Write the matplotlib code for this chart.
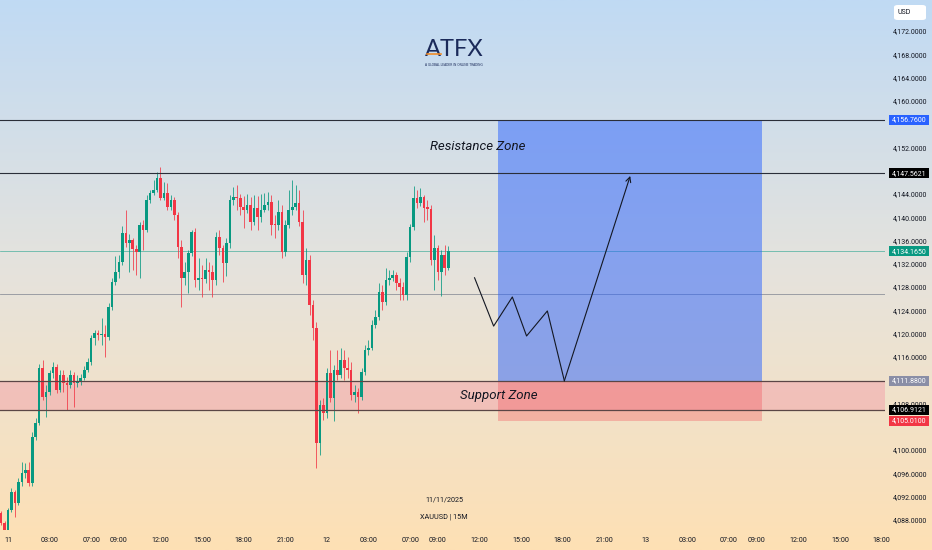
import matplotlib.pyplot as plt
from matplotlib.patches import Rectangle, FancyBboxPatch
from matplotlib.transforms import blended_transform_factory
import numpy as np

# XAUUSD 15M candles (first open, then close / high / low)
first_open = 4089.2
closes = [
    4087.5, 4086.3, 4089.7, 4092.8, 4090.9, 4094.5, 4096.1, 4096.6, 4094.3, 4102.3,
    4104.7, 4114.1, 4109.1, 4110.0, 4113.2, 4114.3, 4110.3, 4112.9, 4111.5, 4111.2,
    4112.9, 4111.5, 4111.9, 4112.4, 4113.8, 4115.1, 4119.3, 4120.1, 4119.8, 4119.9,
    4119.4, 4124.6, 4128.9, 4130.6, 4132.3, 4137.3, 4135.6, 4136.1, 4134.6, 4134.0,
    4138.7, 4137.8, 4143.0, 4144.2, 4144.7, 4146.8, 4143.3, 4144.2, 4141.8, 4143.0,
    4140.4, 4134.9, 4129.6, 4130.6, 4133.9, 4137.5, 4129.2, 4129.6, 4129.4, 4130.9,
    4130.6, 4129.2,
    4136.6, 4134.7, 4132.1, 4135.6, 4143.0, 4143.5, 4143.3, 4141.8, 4141.3, 4142.1,
    4139.2, 4141.6, 4140.1, 4141.3, 4142.1, 4142.6,
    4138.7, 4138.6, 4140.9, 4134.0, 4138.7, 4141.3, 4141.8,
    4142.5, 4139.2, 4130.1, 4132.7, 4124.9, 4121.0, 4101.2, 4107.8, 4106.4, 4113.2,
    4109.0, 4113.8, 4112.9, 4115.5, 4114.1,
    4113.8, 4109.5, 4110.0, 4109.1, 4113.4, 4117.2, 4117.5, 4121.5, 4122.9, 4127.2,
    4125.4, 4129.2, 4129.6,
    4130.1, 4128.7, 4128.0, 4126.6, 4133.2, 4138.3, 4143.3, 4142.5, 4143.5, 4141.6,
    4141.5, 4132.7, 4134.7, 4130.6, 4133.5, 4131.3, 4134.165,
]
highs = [
    4089.5, 4087.8, 4090.1, 4093.5, 4093.1, 4095.2, 4098.0, 4097.8, 4098.0, 4103.1,
    4105.5, 4114.8, 4115.5, 4111.2, 4113.8, 4115.1, 4114.8, 4113.8, 4113.8, 4112.6,
    4113.8, 4113.4, 4112.9, 4113.1, 4114.4, 4115.8, 4119.8, 4120.6, 4120.6, 4122.7,
    4121.5, 4125.3, 4129.6, 4133.4, 4133.5, 4138.5, 4141.3, 4137.1, 4136.4, 4135.2,
    4139.2, 4139.5, 4143.8, 4144.7, 4146.4, 4147.8, 4148.6, 4146.1, 4145.9, 4143.8,
    4143.5, 4140.9, 4136.1, 4132.3, 4134.4, 4137.8, 4138.2, 4133.0, 4131.8, 4133.0,
    4132.3, 4131.8,
    4137.5, 4137.8, 4135.2, 4136.4, 4143.8, 4145.2, 4145.5, 4144.0, 4143.7, 4144.0,
    4143.5, 4143.8, 4143.7, 4144.0, 4144.2, 4144.3,
    4143.8, 4140.4, 4143.0, 4142.1, 4139.5, 4144.7, 4146.4,
    4145.5, 4144.7, 4141.3, 4134.7, 4133.5, 4125.8, 4122.0, 4108.6, 4109.0, 4114.1,
    4117.2, 4114.6, 4117.2, 4117.5, 4117.2,
    4116.0, 4115.1, 4111.2, 4110.7, 4114.1, 4118.1, 4118.9, 4122.4, 4124.1, 4128.7,
    4128.4, 4131.3, 4130.9,
    4130.9, 4130.6, 4129.6, 4128.9, 4134.0, 4138.8, 4145.4, 4144.7, 4145.0, 4143.8,
    4143.0, 4142.1, 4137.0, 4135.2, 4134.4, 4135.2, 4135.1,
]
lows = [
    4087.1, 4085.8, 4085.9, 4089.4, 4088.5, 4090.6, 4093.8, 4095.2, 4093.8, 4093.8,
    4101.7, 4104.3, 4108.6, 4105.7, 4109.5, 4112.4, 4109.8, 4110.0, 4110.0, 4106.9,
    4110.7, 4107.4, 4110.8, 4111.2, 4112.0, 4113.4, 4114.6, 4118.1, 4118.9, 4118.1,
    4116.0, 4118.9, 4124.1, 4128.4, 4129.6, 4131.8, 4134.9, 4130.6, 4130.9, 4130.1,
    4129.6, 4134.4, 4137.5, 4142.5, 4143.8, 4144.3, 4143.0, 4143.0, 4141.3, 4141.3,
    4139.5, 4133.0, 4124.6, 4128.4, 4127.0, 4133.4, 4128.0, 4127.5, 4126.3, 4128.7,
    4127.5, 4126.3,
    4128.4, 4133.5, 4128.9, 4129.9, 4134.7, 4142.1, 4141.3, 4140.4, 4138.2, 4140.7,
    4137.8, 4138.7, 4137.8, 4139.2, 4140.9, 4141.3,
    4137.0, 4136.4, 4137.8, 4133.0, 4133.4, 4138.2, 4140.4,
    4141.3, 4138.5, 4128.7, 4128.4, 4123.2, 4118.9, 4096.9, 4099.2, 4105.2, 4105.5,
    4108.3, 4105.0, 4112.0, 4112.4, 4112.0,
    4112.4, 4108.6, 4108.3, 4106.4, 4108.6, 4112.9, 4116.3, 4117.2, 4121.0, 4122.4,
    4124.1, 4124.9, 4128.4,
    4129.1, 4127.5, 4125.8, 4125.8, 4125.8, 4132.3, 4137.8, 4141.6, 4141.9, 4139.2,
    4139.5, 4131.8, 4127.5, 4129.2, 4126.5, 4130.1, 4130.9,
]

# levels drawn on the chart
target_price = 4156.76
resistance_price = 4147.5621
last_price = 4134.165
mid_line_price = 4126.8
support_top = 4111.88
support_bottom = 4106.9121
stop_price = 4105.01

# long position box (bar index range) and projected path
box_start, box_end = 141.5, 217.6
path_x = [134.6, 140.1, 145.5, 149.6, 155.6, 160.5, 179.5]
path_y = [4129.6, 4121.3, 4126.3, 4119.6, 4123.9, 4111.9, 4147.1]

# axes labels
price_ticks = [4088, 4092, 4096, 4100, 4108, 4116, 4120, 4124, 4128, 4132,
               4136, 4140, 4144, 4152, 4160, 4164, 4168, 4172]
time_pos = [0, 12, 24, 32, 44, 56, 68, 80, 92, 104, 116, 124,
            136, 148, 160, 172, 184, 196, 208, 216, 228, 240, 252]
time_labels = ['11', '03:00', '07:00', '09:00', '12:00', '15:00', '18:00', '21:00',
               '12', '03:00', '07:00', '09:00', '12:00', '15:00', '18:00', '21:00',
               '13', '03:00', '07:00', '09:00', '12:00', '15:00', '18:00']

badges = [
    (target_price, '4,156.7600', '#2962ff'),
    (resistance_price, '4,147.5621', '#000000'),
    (last_price, '4,134.1650', '#089981'),
    (support_top, '4,111.8800', '#8a8ea6'),
    (support_bottom, '4,106.9121', '#000000'),
    (stop_price, '4,105.0100', '#f23645'),
]

font = ['Roboto', 'DejaVu Sans']
W, H = 932, 550

fig = plt.figure(figsize=(W / 100, H / 100), dpi=100)

# gradient background (blue top -> peach bottom)
bg = fig.add_axes([0, 0, 1, 1], zorder=0)
t = np.linspace(0, 1, 300)
stops = [0, 0.5, 1]
rgb = np.stack([np.interp(t, stops, [192, 230, 254]),
                np.interp(t, stops, [218, 227, 224]),
                np.interp(t, stops, [244, 220, 180])], axis=-1) / 255
bg.imshow(rgb[:, None, :], aspect='auto', extent=[0, 1, 0, 1])
bg.axis('off')

ax = fig.add_axes([0, 20 / H, 885 / W, 530 / H], zorder=1)
ax.patch.set_alpha(0)
for s in ax.spines.values():
    s.set_visible(False)

n = min(len(closes), len(highs), len(lows))
c = np.array(closes[:n])
o = np.array([first_open] + closes[:n - 1])
h = np.maximum(np.array(highs[:n]), np.maximum(o, c))
l = np.minimum(np.array(lows[:n]), np.minimum(o, c))
idx = np.arange(n) - 2
up = c >= o
cols = np.where(up, '#089981', '#f23645')

ax.vlines(idx, l, h, colors=cols, lw=0.7, alpha=0.8, zorder=3)
body = np.maximum(np.abs(c - o), 0.2)
ax.bar(idx, body, bottom=np.minimum(o, c), width=0.76, color=cols, zorder=3, linewidth=0)

# horizontal levels
ax.axhline(last_price, color='#089981', lw=0.5, alpha=0.7, zorder=2)
ax.axhline(mid_line_price, color='#8f939c', lw=0.6, zorder=2)
ax.axhspan(support_bottom, support_top, fc='#f2a0aa', alpha=0.5, lw=0, zorder=1.5)

# long position tool
ax.add_patch(Rectangle((box_start, support_top), box_end - box_start,
                       target_price - support_top, fc='#2962ff', alpha=0.5,
                       lw=0, zorder=4))
ax.add_patch(Rectangle((box_start, stop_price), box_end - box_start,
                       support_top - stop_price, fc='#f23645', alpha=0.28,
                       lw=0, zorder=4))

ax.axhline(target_price, color='#2a2e39', lw=0.8, zorder=5)
ax.axhline(resistance_price, color='#2a2e39', lw=0.8, zorder=5)
ax.axhline(support_top, color='#5a4646', lw=0.9, zorder=5)
ax.axhline(support_bottom, color='#5a4646', lw=0.9, zorder=5)

ax.plot(path_x[:-1], path_y[:-1], color='#131722', lw=0.8, zorder=6)
ax.annotate('', xy=(path_x[-1], path_y[-1]), xytext=(path_x[-2], path_y[-2]),
            arrowprops=dict(arrowstyle='->', color='#131722', lw=0.8,
                            mutation_scale=9, shrinkA=0, shrinkB=0), zorder=6)

ax.text(135.4, 4152.1, 'Resistance Zone', ha='center', va='center', fontsize=9.5,
        style='italic', family=font, color='#131722', zorder=7)
ax.text(141.5, 4109.3, 'Support Zone', ha='center', va='center', fontsize=9.5,
        style='italic', family=font, color='#131722', zorder=7)

ax.set_xlim(-2.3, 253.0)
ax.set_ylim(4177.33 - 530 / 5.82, 4177.33)

ax.yaxis.tick_right()
ax.set_yticks(price_ticks)
ax.set_yticklabels([f'{p:,.4f}' for p in price_ticks])
ax.set_xticks(time_pos)
ax.set_xticklabels(time_labels)
ax.tick_params(axis='y', length=0, pad=6.0, labelsize=5.0, labelcolor='#131722')
ax.tick_params(axis='x', length=0, pad=5, labelsize=5.2, labelcolor='#131722')
for lab in ax.get_xticklabels() + ax.get_yticklabels():
    lab.set_family(font)

# price badges on the right scale
tr = blended_transform_factory(ax.transAxes, ax.transData)
bh = 10 / 5.82
for price, text, color in badges:
    ax.add_patch(Rectangle((889 / 885, price - bh / 2), 40 / 885, bh, fc=color,
                           lw=0, transform=tr, clip_on=False, zorder=8))
    ax.text(909 / 885, price, text, transform=tr, ha='center', va='center',
            fontsize=5.0, family=font, color='white', clip_on=False, zorder=9)

# USD box
fig.patches.append(FancyBboxPatch((894 / W, 1 - 20 / H), 32 / W, 15 / H,
                                  boxstyle='round,pad=0,rounding_size=0.004',
                                  fc='white', ec='none', transform=fig.transFigure,
                                  zorder=3))
fig.text(898 / W, 1 - 12.5 / H, 'USD', fontsize=5.0, family=font, color='#131722',
         va='center', ha='left', zorder=4)

# logo
fig.text(454 / W, 1 - 49 / H, 'ATFX', fontsize=17, family=['Lato', 'DejaVu Sans'],
         color='#1b2a5a', ha='center', va='center', zorder=4)
fig.lines.append(plt.Line2D([427 / W, 441 / W], [1 - 54 / H, 1 - 54 / H],
                            color='#f28c28', lw=1.2, transform=fig.transFigure,
                            zorder=5))
fig.text(454 / W, 1 - 65 / H, 'A GLOBAL LEADER IN ONLINE TRADING', fontsize=2.2,
         color='#1b2a5a', ha='center', va='center', zorder=4)

# footer
fig.text(444 / W, 1 - 500 / H, '11/11/2025', fontsize=5.2, family=font,
         color='#131722', ha='center', va='center', zorder=4)
fig.text(444 / W, 1 - 517 / H, 'XAUUSD | 15M', fontsize=5.2, family=font,
         color='#131722', ha='center', va='center', zorder=4)

fig.savefig('out.png', dpi=100)
